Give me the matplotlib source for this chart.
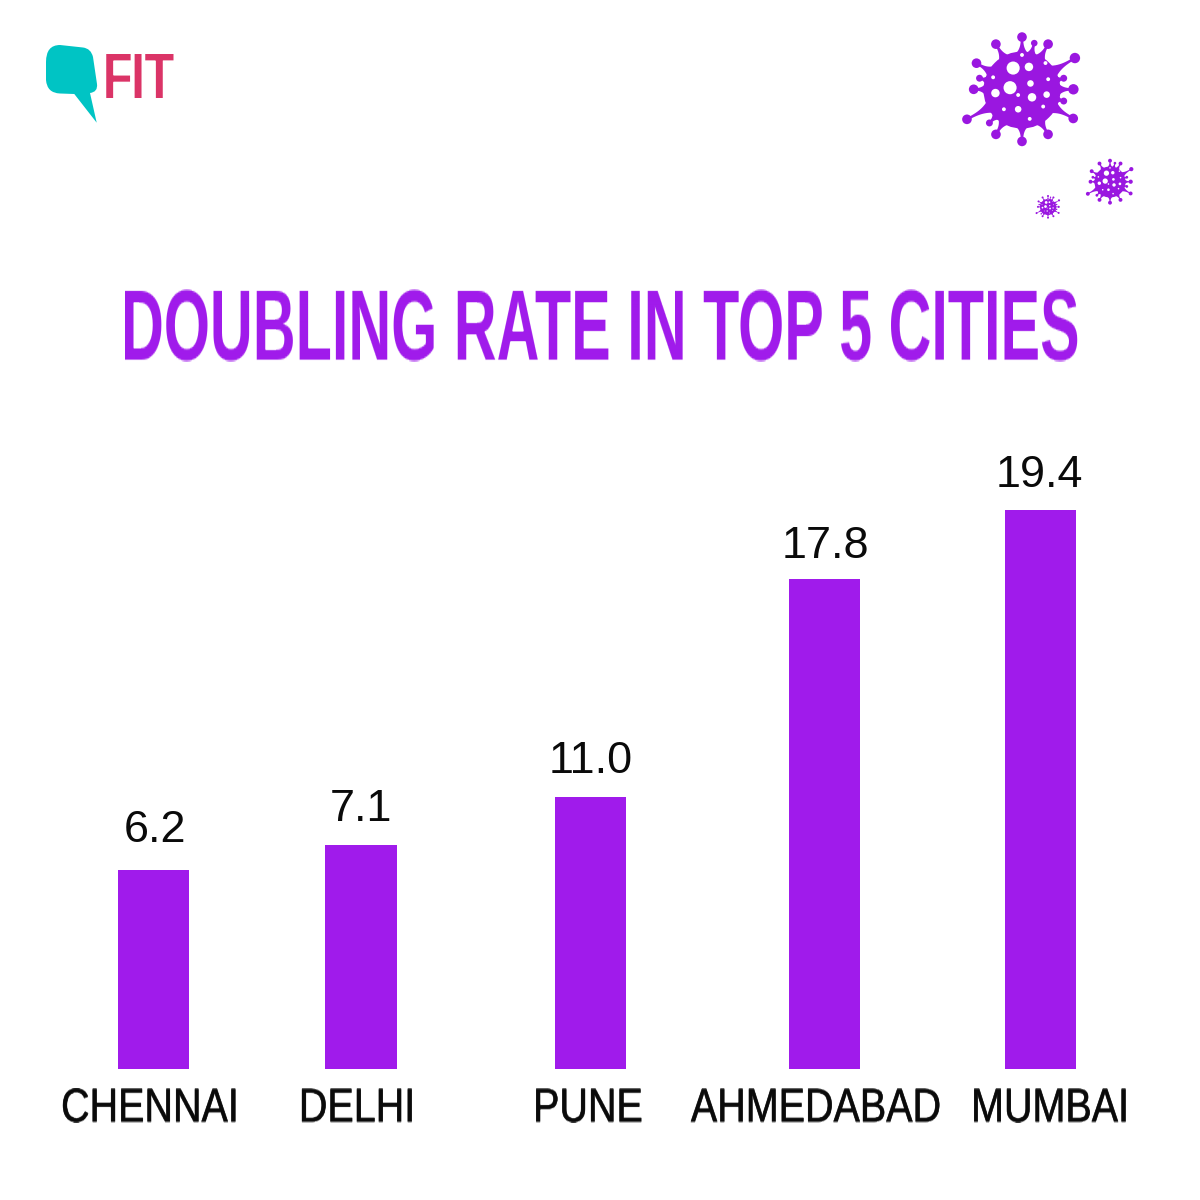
import numpy as np
import matplotlib
matplotlib.use("Agg")
import matplotlib.pyplot as plt
import matplotlib.patheffects as pe
from matplotlib.patches import Circle, PathPatch, Polygon
from matplotlib.path import Path

# --- data -------------------------------------------------------------
cities = ["CHENNAI", "DELHI", "PUNE", "AHMEDABAD", "MUMBAI"]
value_labels = ["6.2", "7.1", "11.0", "17.8", "19.4"]
# bar heights as drawn in the picture (not proportional to the printed labels)
bar_heights = [6.91, 7.77, 9.44, 17.0, 19.4]
bar_centres = [153.5, 361, 590.5, 824.5, 1040.5]
city_label_x = [150, 357, 588, 816, 1050]
value_label_x = [155.5, 361, 590.5, 825.5, 1039]
value_label_y = [842, 821, 773, 558, 487]
title = "DOUBLING RATE IN TOP 5 CITIES"

PURPLE = "#A01BEB"
VIRUS = "#9A17E0"
NARROW = ["Liberation Sans Narrow", "Liberation Sans", "DejaVu Sans"]
SANS = ["Liberation Sans", "DejaVu Sans"]


def vstretch(f):
    """agg filter: stretch drawn text upward about its bottom row."""
    def _filter(img, dpi):
        h, w = img.shape[:2]
        nh = int(round(h * f))
        pos = (np.arange(nh) + 0.5) / f - 0.5
        pos = np.clip(pos, 0, h - 1)
        i0 = np.floor(pos).astype(int)
        i1 = np.minimum(i0 + 1, h - 1)
        t = (pos - i0)[:, None, None]
        return img[i0] * (1 - t) + img[i1] * t, 0, 0
    return _filter


fig = plt.figure(figsize=(12, 12), dpi=100, facecolor="white")

# overlay in image pixels for furniture and text
ov = fig.add_axes([0, 0, 1, 1])
ov.set_xlim(0, 1200)
ov.set_ylim(1200, 0)
ov.axis("off")

# --- bars -------------------------------------------------------------
base_y, top_y = 1069.0, 510.0
ax = fig.add_axes([0, 1 - base_y / 1200, 1, (base_y - top_y) / 1200])
ax.patch.set_alpha(0)
ax.set_xlim(0, 1200)
ax.set_ylim(0, max(bar_heights))
ax.axis("off")
ax.bar(bar_centres, bar_heights, width=71.5, color=PURPLE)

px = 72 / 100  # points per pixel at this dpi
for x, name in zip(city_label_x, cities):
    t = ov.text(x, 1122, name, family=SANS, fontsize=39.5 * px, ha="center",
                va="baseline", color="#0a0a0a")
    t.set_path_effects([pe.withStroke(linewidth=0.4, foreground="#0a0a0a")])
    t.set_agg_filter(vstretch(1.2))
for x, y, lab in zip(value_label_x, value_label_y, value_labels):
    ov.text(x, y, lab, family=SANS, fontsize=45 * px, ha="center",
            va="baseline", color="#0a0a0a")

# --- title ------------------------------------------------------------
t = ov.text(121, 362, title, family=NARROW, fontweight="bold",
            fontsize=59.3 * px, ha="left", va="baseline", color=PURPLE)
t.set_agg_filter(vstretch(1.69))

# --- logo -------------------------------------------------------------
M, L, C = Path.MOVETO, Path.LINETO, Path.CURVE3
verts = [(46, 62), (46, 45), (60, 45), (83, 47.5), (91, 48.5), (93, 57),
         (97, 84), (98, 92), (90, 93), (96.7, 122.7), (74.3, 94), (60, 93.5),
         (47, 93), (46, 80), (46, 62)]
codes = [M, C, C, L, C, C, L, C, C, L, L, L, C, C, L]
ov.add_patch(PathPatch(Path(verts, codes), fc="#00C4C4", ec="none"))
fit = ov.text(103, 98, "FIT", family=NARROW, fontweight="bold",
              fontsize=48 * px, ha="left", va="baseline", color="#DB3467")
fit.set_agg_filter(vstretch(1.33))

# --- virus icons ------------------------------------------------------
spike_tips = [(0, -1.50), (.34, -1.30), (.74, -1.30), (1.49, -.90), (1.17, -.33),
              (1.47, -.02), (1.17, .31), (1.44, .80), (.74, 1.26), (0, 1.46),
              (-.74, 1.26), (-.91, .92), (-1.54, .82), (-1.38, -.02),
              (-1.19, -.33), (-1.29, -.76), (-.74, -1.30)]
spike_sizes = [.125, .085, .125, .135, .09, .135, .09, .125, .125, .125,
               .125, .09, .125, .125, .09, .125, .125]
holes = [(-.23, -.57, .17), (.18, -.60, .11), (-.31, -.06, .17), (.22, -.17, .085),
         (-.69, .08, .11), (.26, .19, .11), (.64, .12, .085), (-.10, .50, .085),
         (.20, .75, .05), (-.47, .50, .05), (.55, .43, .05), (-.75, -.33, .05),
         (.68, -.28, .05), (.61, -.70, .05), (0, -.91, .05), (-.10, .13, .05)]


def virus(cx, cy, r):
    c = np.array([cx, cy])
    ov.add_patch(Circle(c, r, fc=VIRUS, ec="none", zorder=3))
    for (tx, ty), s in zip(spike_tips, spike_sizes):
        d = np.array([tx, ty])
        length = np.hypot(tx, ty)
        n = d / length
        p = np.array([-n[1], n[0]])
        u = np.linspace(0, 1, 14)
        along = 0.92 + u * (length - s - 0.92)
        half = .032 + .15 * (1 - u) ** 3
        left = np.outer(along, n) + np.outer(half, p)
        right = np.outer(along, n) - np.outer(half, p)
        poly = np.vstack([left, right[::-1]]) * r + c
        ov.add_patch(Polygon(poly, fc=VIRUS, ec="none", zorder=3))
        ov.add_patch(Circle(c + (length - s) * n * r, s * r,
                            fc=VIRUS, ec="none", zorder=3))
    for hx, hy, hr in holes:
        ov.add_patch(Circle((cx + hx * r, cy + hy * r), hr * r,
                            fc="white", ec="none", zorder=4))


virus(1022, 90, 38.5)
virus(1110, 182, 15.5)
virus(1048, 207, 8)

fig.savefig("out.png", dpi=100, facecolor="white")
